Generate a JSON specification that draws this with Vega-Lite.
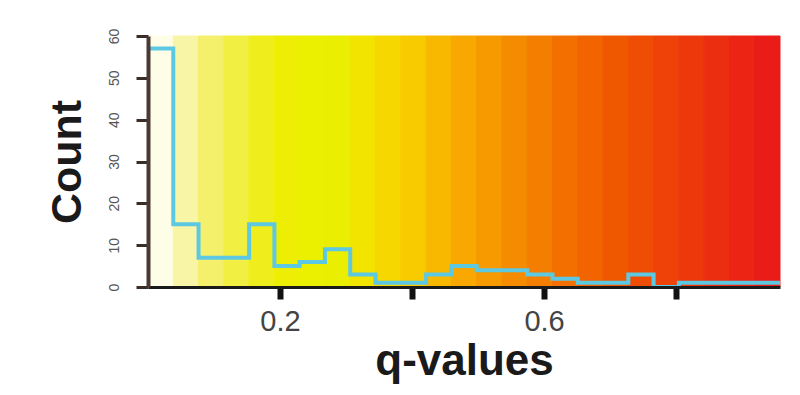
{
  "$schema": "https://vega.github.io/schema/vega-lite/v6.json",
  "width": 632,
  "height": 251,
  "autosize": {"type": "none"},
  "padding": {"left": 148, "top": 36, "right": 20, "bottom": 108},
  "background": "#ffffff",
  "config": {"view": {"stroke": null}, "font": "Liberation Sans"},
  "datasets": {
    "bins": [
      {"bin": 0, "q0": 0, "q1": 0.0383},
      {"bin": 1, "q0": 0.0383, "q1": 0.0766},
      {"bin": 2, "q0": 0.0766, "q1": 0.1149},
      {"bin": 3, "q0": 0.1149, "q1": 0.1532},
      {"bin": 4, "q0": 0.1532, "q1": 0.1915},
      {"bin": 5, "q0": 0.1915, "q1": 0.2298},
      {"bin": 6, "q0": 0.2298, "q1": 0.2681},
      {"bin": 7, "q0": 0.2681, "q1": 0.3064},
      {"bin": 8, "q0": 0.3064, "q1": 0.3447},
      {"bin": 9, "q0": 0.3447, "q1": 0.383},
      {"bin": 10, "q0": 0.383, "q1": 0.4213},
      {"bin": 11, "q0": 0.4213, "q1": 0.4596},
      {"bin": 12, "q0": 0.4596, "q1": 0.4979},
      {"bin": 13, "q0": 0.4979, "q1": 0.5362},
      {"bin": 14, "q0": 0.5362, "q1": 0.5745},
      {"bin": 15, "q0": 0.5745, "q1": 0.6128},
      {"bin": 16, "q0": 0.6128, "q1": 0.6511},
      {"bin": 17, "q0": 0.6511, "q1": 0.6894},
      {"bin": 18, "q0": 0.6894, "q1": 0.7277},
      {"bin": 19, "q0": 0.7277, "q1": 0.766},
      {"bin": 20, "q0": 0.766, "q1": 0.8043},
      {"bin": 21, "q0": 0.8043, "q1": 0.8426},
      {"bin": 22, "q0": 0.8426, "q1": 0.8809},
      {"bin": 23, "q0": 0.8809, "q1": 0.9192},
      {"bin": 24, "q0": 0.9192, "q1": 0.9575}
    ],
    "steps": [
      {"q": 0, "count": 57},
      {"q": 0.0383, "count": 15},
      {"q": 0.0766, "count": 7},
      {"q": 0.1149, "count": 7},
      {"q": 0.1532, "count": 15},
      {"q": 0.1915, "count": 5},
      {"q": 0.2298, "count": 6},
      {"q": 0.2681, "count": 9},
      {"q": 0.3064, "count": 3},
      {"q": 0.3447, "count": 1},
      {"q": 0.383, "count": 1},
      {"q": 0.4213, "count": 3},
      {"q": 0.4596, "count": 5},
      {"q": 0.4979, "count": 4},
      {"q": 0.5362, "count": 4},
      {"q": 0.5745, "count": 3},
      {"q": 0.6128, "count": 2},
      {"q": 0.6511, "count": 1},
      {"q": 0.6894, "count": 1},
      {"q": 0.7277, "count": 3},
      {"q": 0.766, "count": 0},
      {"q": 0.8043, "count": 1},
      {"q": 0.8426, "count": 1},
      {"q": 0.8809, "count": 1},
      {"q": 0.9192, "count": 1},
      {"q": 0.9575, "count": 1}
    ]
  },
  "layer": [
    {
      "data": {"name": "bins"},
      "mark": {"type": "rect", "strokeWidth": 1},
      "encoding": {
        "x": {
          "field": "q0",
          "type": "quantitative",
          "title": "q-values",
          "scale": {"domain": [0, 0.9575], "nice": false, "zero": false},
          "axis": {
            "values": [0.2, 0.4, 0.6, 0.8],
            "format": ".1f",
            "labelExpr": "(datum.value > 0.19 && datum.value < 0.21) || (datum.value > 0.59 && datum.value < 0.61) ? datum.label : ''",
            "grid": false,
            "zindex": 1,
            "domainColor": "#1a1a1a",
            "domainWidth": 3,
            "tickColor": "#111111",
            "tickWidth": 6,
            "tickSize": 12,
            "labelFontSize": 29,
            "labelColor": "#444444",
            "labelPadding": 8,
            "titleFontSize": 44,
            "titleFontWeight": "bold",
            "titleColor": "#1a1a1a",
            "titlePadding": 3
          }
        },
        "x2": {"field": "q1"},
        "y": {
          "datum": 0,
          "type": "quantitative",
          "title": "Count",
          "scale": {"domain": [0, 60], "nice": false},
          "axis": {
            "values": [0, 10, 20, 30, 40, 50, 60],
            "grid": false,
            "zindex": 1,
            "domainColor": "#4b3a33",
            "domainWidth": 4,
            "tickColor": "#3a2d28",
            "tickWidth": 3,
            "tickSize": 12,
            "labelAngle": -90,
            "labelAlign": "center",
            "labelBaseline": "bottom",
            "labelFontSize": 14,
            "labelColor": "#555555",
            "labelPadding": 15,
            "titleFontSize": 43,
            "titleFontWeight": "bold",
            "titleColor": "#1a1a1a",
            "titlePadding": 18
          }
        },
        "y2": {"datum": 60},
        "color": {
          "field": "bin",
          "type": "ordinal",
          "legend": null,
          "scale": {
            "range": [
              "#FEFDE8", "#F9F5A6", "#F4F06C", "#F1EF42", "#EFEE1C",
              "#EDEE04", "#EBF000", "#EAEE00", "#F3E400", "#F6D800",
              "#F8CA00", "#F9B800", "#F8A800", "#F69A00", "#F58C00",
              "#F47E00", "#F37000", "#F16400", "#F05800", "#EF4C04",
              "#EE4208", "#ED380C", "#EC2E10", "#EB2414", "#EA1C18"
            ]
          }
        },
        "stroke": {
          "field": "bin",
          "type": "ordinal",
          "legend": null,
          "scale": {
            "range": [
              "#FEFDE8", "#F9F5A6", "#F4F06C", "#F1EF42", "#EFEE1C",
              "#EDEE04", "#EBF000", "#EAEE00", "#F3E400", "#F6D800",
              "#F8CA00", "#F9B800", "#F8A800", "#F69A00", "#F58C00",
              "#F47E00", "#F37000", "#F16400", "#F05800", "#EF4C04",
              "#EE4208", "#ED380C", "#EC2E10", "#EB2414", "#EA1C18"
            ]
          }
        }
      }
    },
    {
      "data": {"name": "steps"},
      "mark": {"type": "line", "interpolate": "step-after", "color": "#5DC8E2", "strokeWidth": 4},
      "encoding": {
        "x": {"field": "q", "type": "quantitative", "title": "q-values"},
        "y": {"field": "count", "type": "quantitative", "title": "Count"}
      }
    }
  ]
}
